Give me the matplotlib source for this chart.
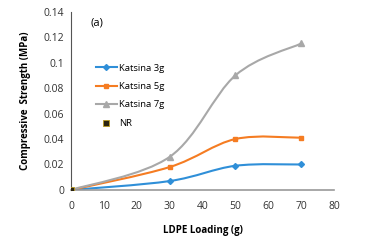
import matplotlib
matplotlib.use('Agg')
import matplotlib.pyplot as plt
import numpy as np
from matplotlib.path import Path
from matplotlib.patches import PathPatch

loading = [0, 30, 50, 70]
katsina_3g = [0.0, 0.007, 0.019, 0.020]
katsina_5g = [0.0, 0.018, 0.040, 0.041]
katsina_7g = [0.0, 0.026, 0.090, 0.115]
nr_x = [0]
nr_y = [0.0]

plt.rcParams['font.family'] = ['Open Sans', 'DejaVu Sans']


def smooth_path(x, y):
    # Excel-like smoothed line: cubic Bezier segments through the points
    pts = np.column_stack([x, y]).astype(float)
    n = len(pts)
    verts = [pts[0]]
    codes = [Path.MOVETO]
    for i in range(n - 1):
        p0 = pts[max(i - 1, 0)]
        p1 = pts[i]
        p2 = pts[i + 1]
        p3 = pts[min(i + 2, n - 1)]
        c1 = p1 + (p2 - p0) / 6
        c2 = p2 - (p3 - p1) / 6
        verts += [c1, c2, p2]
        codes += [Path.CURVE4] * 3
    return Path(verts, codes)


fig = plt.figure(figsize=(3.66, 2.42), dpi=100)
ax = fig.add_axes([0.194, 0.215, 0.719, 0.737])

series = [
    (katsina_3g, 'Katsina 3g', '#2f8fd8', 'D', 3),
    (katsina_5g, 'Katsina 5g', '#f57c22', 's', 3.5),
    (katsina_7g, 'Katsina 7g', '#a8a8a8', '^', 4),
]
for vals, lab, col, mk, ms in series:
    ax.add_patch(PathPatch(smooth_path(loading, vals), fill=False, edgecolor=col, lw=1.5))
    ax.plot(loading, vals, linestyle='none', marker=mk, color=col, ms=ms)
    ax.plot([], [], color=col, lw=1.5, marker=mk, ms=ms, label=lab)

ax.plot(nr_x, nr_y, linestyle='none', marker='s', ms=4.5, color='#2b2410',
        markeredgecolor='#b89a20', markeredgewidth=0.6, label='NR', zorder=5)

ax.set_xlim(0, 80)
ax.set_ylim(0, 0.14)
ax.set_xticks(range(0, 81, 10))
ax.set_yticks([0, 0.02, 0.04, 0.06, 0.08, 0.1, 0.12, 0.14])
ax.set_yticklabels(['0', '0.02', '0.04', '0.06', '0.08', '0.1', '0.12', '0.14'])
ax.tick_params(length=0, labelsize=7.5, colors='#333333', pad=8)
ax.tick_params(axis='y', pad=5)

for s in ['top', 'right']:
    ax.spines[s].set_visible(False)
ax.spines['left'].set_color('#555555')
ax.spines['left'].set_linewidth(0.8)
ax.spines['bottom'].set_color('#9a9a9a')
ax.spines['bottom'].set_linewidth(1.2)

ax.set_xlabel('LDPE Loading (g)', fontsize=7, fontweight='bold', labelpad=9)
ax.set_ylabel('Compressive  Strength (MPa)', fontsize=7, fontweight='bold', labelpad=9)
ax.text(8, 0.131, '(a)', fontsize=8, ha='center', va='center')

ax.legend(loc='upper left', bbox_to_anchor=(0.08, 0.73), frameon=False,
          fontsize=6.8, handlelength=2.2, handletextpad=0.3, labelspacing=1.0,
          borderaxespad=0)

fig.savefig('out.png', dpi=100)
